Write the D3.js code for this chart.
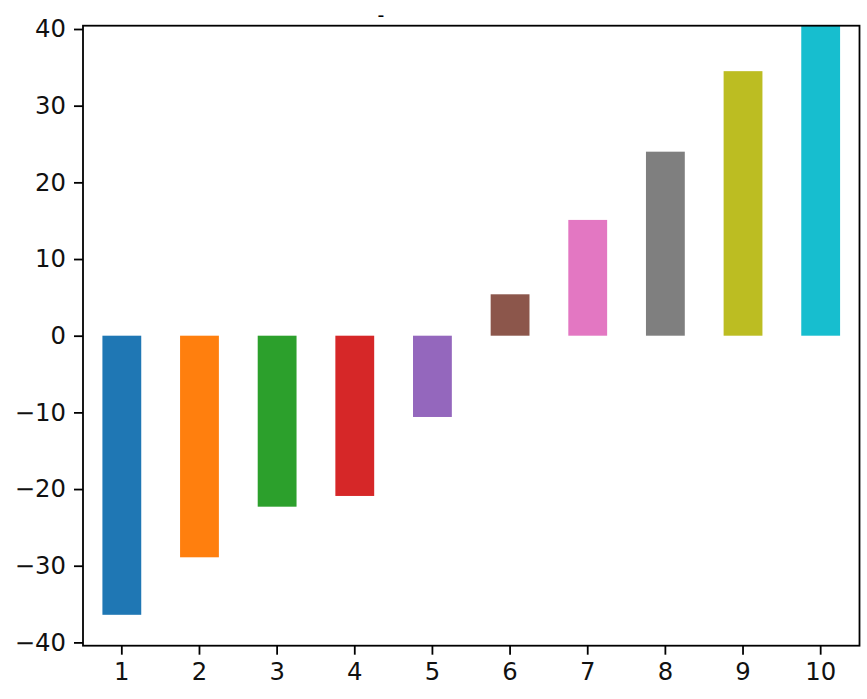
<!DOCTYPE html>
<html>
<head>
<meta charset="utf-8">
<script src="https://cdn.jsdelivr.net/npm/d3@7"></script>
<style>
  html, body { margin: 0; padding: 0; background: #fff; }
  svg { display: block; }
  text { font-family: "DejaVu Sans", sans-serif; }
</style>
</head>
<body>
<svg id="chart" width="867" height="699"></svg>
<script>
const categories = ["1", "2", "3", "4", "5", "6", "7", "8", "9", "10"];
const values = [-36.4, -28.9, -22.3, -20.9, -10.6, 5.4, 15.1, 24.0, 34.5, 42.0];
const colors = ["#1f77b4", "#ff7f0e", "#2ca02c", "#d62728", "#9467bd",
                "#8c564b", "#e377c2", "#7f7f7f", "#bcbd22", "#17becf"];
const yTicks = [-40, -30, -20, -10, 0, 10, 20, 30, 40];
const titleText = "-";

const W = 867, H = 699;
const margin = { left: 83, right: 7.5, top: 25.7, bottom: 53.3 };
const iw = W - margin.left - margin.right;
const ih = H - margin.top - margin.bottom;

const svg = d3.select("#chart");

const x = d3.scaleBand().domain(categories).range([0, iw]).paddingInner(0.5).paddingOuter(0.25);
const y = d3.scaleLinear().domain([-40.43, 40.43]).range([ih, 0]);

svg.append("defs").append("clipPath").attr("id", "clip")
  .append("rect").attr("x", 0).attr("y", 0).attr("width", iw).attr("height", ih);

const g = svg.append("g").attr("transform", `translate(${margin.left},${margin.top})`);

g.append("g").attr("clip-path", "url(#clip)")
  .selectAll("rect").data(values).enter().append("rect")
  .attr("x", (d, i) => x(categories[i]))
  .attr("width", x.bandwidth())
  .attr("y", d => y(Math.max(0, d)))
  .attr("height", d => Math.abs(y(d) - y(0)))
  .attr("fill", (d, i) => colors[i]);

const fs = 24.3;
const yAxis = g.append("g")
  .call(d3.axisLeft(y).tickValues(yTicks).tickSize(9).tickPadding(8)
    .tickFormat(d => d < 0 ? "\u2212" + Math.abs(d) : String(d)));
const xAxis = g.append("g").attr("transform", `translate(0,${ih})`)
  .call(d3.axisBottom(x).tickSize(9).tickPadding(8));

[yAxis, xAxis].forEach(a => {
  a.select(".domain").remove();
  a.selectAll(".tick line").attr("stroke", "#000").attr("stroke-width", 1.8);
  a.selectAll(".tick text").attr("fill", "#111").style("font-size", fs + "px")
    .style("font-family", "'DejaVu Sans', sans-serif");
});

g.append("rect").attr("x", 0).attr("y", 0).attr("width", iw).attr("height", ih)
  .attr("fill", "none").attr("stroke", "#000").attr("stroke-width", 1.8);

svg.append("text").attr("x", 381).attr("y", 22).attr("text-anchor", "middle")
  .style("font-size", "19px").attr("fill", "#000").text(titleText);
</script>
</body>
</html>
